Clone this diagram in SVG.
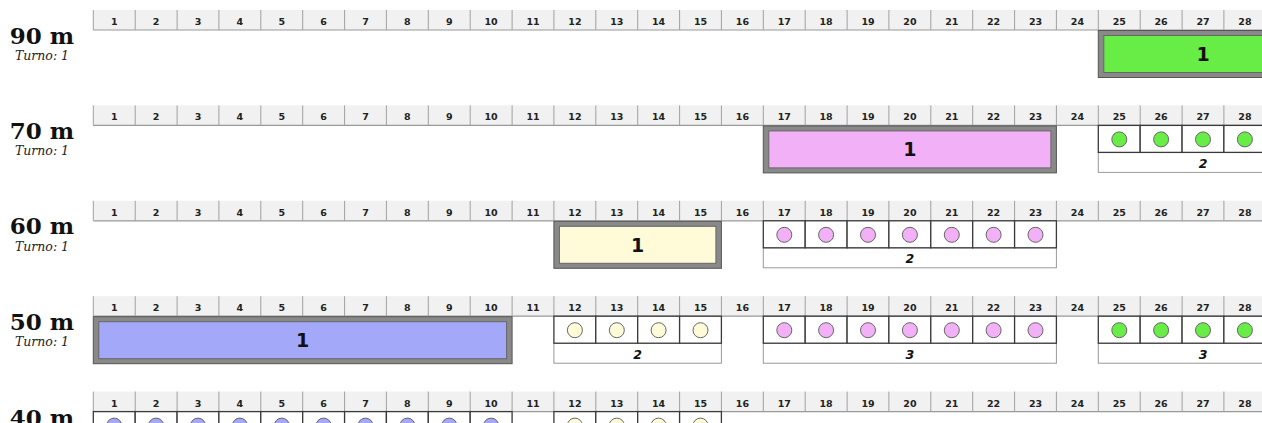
<svg xmlns="http://www.w3.org/2000/svg" xmlns:xlink="http://www.w3.org/1999/xlink" width="1262" height="423" viewBox="0 0 1262 423">
<style>
.lbl{font-family:"DejaVu Serif",serif;font-weight:bold;font-size:23px;fill:#111;text-anchor:middle}
.turno{font-family:"DejaVu Serif",serif;font-style:italic;font-size:12.5px;fill:#222;text-anchor:middle}
.rn{font-family:"DejaVu Sans",sans-serif;font-weight:bold;font-size:9.5px;fill:#222;text-anchor:middle}
.bo{fill:#898989;stroke:#555;stroke-width:1}
.bi{stroke:#666;stroke-width:1}
.bt{font-family:"DejaVu Sans",sans-serif;font-weight:bold;font-size:19px;fill:#111;text-anchor:middle}
.cell{fill:#fff;stroke:#3a3a3a;stroke-width:1.3}
.lb{fill:#fff;stroke:#999;stroke-width:1}
.lt{font-family:"DejaVu Sans",sans-serif;font-weight:bold;font-style:italic;font-size:12.5px;fill:#111;text-anchor:middle}
.c{stroke:#666;stroke-width:1}
.green{fill:#68ec46}.pink{fill:#f2b1f6}.yellow{fill:#fffbd8}.blue{fill:#a3a9f8}
.sep{stroke:#a0a0a0;stroke-width:1}
</style>
<defs>
<g id="ruler">
<rect x="93.3" y="0" width="1170" height="20" fill="#f1f1f1"/>
<line x1="93.3" y1="20" x2="1262" y2="20" stroke="#999" stroke-width="1.2"/>
<g class="sep">
<line x1="93.3" y1="0" x2="93.3" y2="20"/><line x1="135.2" y1="0" x2="135.2" y2="20"/><line x1="177.1" y1="0" x2="177.1" y2="20"/><line x1="218.9" y1="0" x2="218.9" y2="20"/><line x1="260.8" y1="0" x2="260.8" y2="20"/><line x1="302.7" y1="0" x2="302.7" y2="20"/><line x1="344.6" y1="0" x2="344.6" y2="20"/><line x1="386.4" y1="0" x2="386.4" y2="20"/><line x1="428.3" y1="0" x2="428.3" y2="20"/><line x1="470.2" y1="0" x2="470.2" y2="20"/><line x1="512.1" y1="0" x2="512.1" y2="20"/><line x1="553.9" y1="0" x2="553.9" y2="20"/><line x1="595.8" y1="0" x2="595.8" y2="20"/><line x1="637.7" y1="0" x2="637.7" y2="20"/><line x1="679.6" y1="0" x2="679.6" y2="20"/><line x1="721.4" y1="0" x2="721.4" y2="20"/><line x1="763.3" y1="0" x2="763.3" y2="20"/><line x1="805.2" y1="0" x2="805.2" y2="20"/><line x1="847.1" y1="0" x2="847.1" y2="20"/><line x1="888.9" y1="0" x2="888.9" y2="20"/><line x1="930.8" y1="0" x2="930.8" y2="20"/><line x1="972.7" y1="0" x2="972.7" y2="20"/><line x1="1014.6" y1="0" x2="1014.6" y2="20"/><line x1="1056.4" y1="0" x2="1056.4" y2="20"/><line x1="1098.3" y1="0" x2="1098.3" y2="20"/><line x1="1140.2" y1="0" x2="1140.2" y2="20"/><line x1="1182.1" y1="0" x2="1182.1" y2="20"/><line x1="1223.9" y1="0" x2="1223.9" y2="20"/>
</g>
<g class="rn">
<text x="114.2" y="15">1</text><text x="156.1" y="15">2</text><text x="198" y="15">3</text><text x="239.9" y="15">4</text><text x="281.8" y="15">5</text><text x="323.6" y="15">6</text><text x="365.5" y="15">7</text><text x="407.4" y="15">8</text><text x="449.3" y="15">9</text><text x="491.1" y="15">10</text><text x="533" y="15">11</text><text x="574.9" y="15">12</text><text x="616.8" y="15">13</text><text x="658.6" y="15">14</text><text x="700.5" y="15">15</text><text x="742.4" y="15">16</text><text x="784.3" y="15">17</text><text x="826.1" y="15">18</text><text x="868" y="15">19</text><text x="909.9" y="15">20</text><text x="951.8" y="15">21</text><text x="993.6" y="15">22</text><text x="1035.5" y="15">23</text><text x="1077.4" y="15">24</text><text x="1119.3" y="15">25</text><text x="1161.1" y="15">26</text><text x="1203" y="15">27</text><text x="1244.9" y="15">28</text>
</g>
</g>
</defs>

<!-- Row 90 m -->
<g id="row-90" transform="translate(0,10)">
<use xlink:href="#ruler" href="#ruler"/>
<g id="label-90"><text class="lbl" x="42" y="33.5">90 m</text><text class="turno" x="42" y="50">Turno: 1</text></g>
<g id="r90-seg1">
<rect class="bo" x="1098.3" y="20.5" width="209.4" height="47"/>
<rect class="bi green" x="1103.8" y="25.5" width="198.4" height="37"/>
<text class="bt" x="1203" y="51">1</text>
</g>
</g>

<!-- Row 70 m -->
<g id="row-70" transform="translate(0,105.4)">
<use xlink:href="#ruler" href="#ruler"/>
<g id="label-70"><text class="lbl" x="42" y="33.5">70 m</text><text class="turno" x="42" y="50">Turno: 1</text></g>
<g id="r70-seg1">
<rect class="bo" x="763.3" y="20.5" width="293.1" height="47"/>
<rect class="bi pink" x="768.8" y="25.5" width="282.1" height="37"/>
<text class="bt" x="909.9" y="51">1</text>
</g>
<g id="r70-seg2">
<rect class="lb" x="1098.3" y="47" width="209.4" height="20"/>
<rect class="cell" x="1098.3" y="20" width="41.9" height="27"/><rect class="cell" x="1140.2" y="20" width="41.9" height="27"/><rect class="cell" x="1182.1" y="20" width="41.8" height="27"/><rect class="cell" x="1223.9" y="20" width="41.9" height="27"/>
<circle class="c green" cx="1119.3" cy="34" r="7.5"/><circle class="c green" cx="1161.1" cy="34" r="7.5"/><circle class="c green" cx="1203" cy="34" r="7.5"/><circle class="c green" cx="1244.9" cy="34" r="7.5"/>
<text class="lt" x="1203" y="62.5">2</text>
</g>
</g>

<!-- Row 60 m -->
<g id="row-60" transform="translate(0,200.8)">
<use xlink:href="#ruler" href="#ruler"/>
<g id="label-60"><text class="lbl" x="42" y="33.5">60 m</text><text class="turno" x="42" y="50">Turno: 1</text></g>
<g id="r60-seg1">
<rect class="bo" x="553.9" y="20.5" width="167.5" height="47"/>
<rect class="bi yellow" x="559.4" y="25.5" width="156.5" height="37"/>
<text class="bt" x="637.7" y="51">1</text>
</g>
<g id="r60-seg2">
<rect class="lb" x="763.3" y="47" width="293.1" height="20"/>
<rect class="cell" x="763.3" y="20" width="41.9" height="27"/><rect class="cell" x="805.2" y="20" width="41.9" height="27"/><rect class="cell" x="847.1" y="20" width="41.8" height="27"/><rect class="cell" x="888.9" y="20" width="41.9" height="27"/><rect class="cell" x="930.8" y="20" width="41.9" height="27"/><rect class="cell" x="972.7" y="20" width="41.9" height="27"/><rect class="cell" x="1014.6" y="20" width="41.8" height="27"/>
<circle class="c pink" cx="784.3" cy="34" r="7.5"/><circle class="c pink" cx="826.1" cy="34" r="7.5"/><circle class="c pink" cx="868" cy="34" r="7.5"/><circle class="c pink" cx="909.9" cy="34" r="7.5"/><circle class="c pink" cx="951.8" cy="34" r="7.5"/><circle class="c pink" cx="993.6" cy="34" r="7.5"/><circle class="c pink" cx="1035.5" cy="34" r="7.5"/>
<text class="lt" x="909.9" y="62.5">2</text>
</g>
</g>

<!-- Row 50 m -->
<g id="row-50" transform="translate(0,296.2)">
<use xlink:href="#ruler" href="#ruler"/>
<g id="label-50"><text class="lbl" x="42" y="33.5">50 m</text><text class="turno" x="42" y="50">Turno: 1</text></g>
<g id="r50-seg1">
<rect class="bo" x="93.3" y="20.5" width="418.8" height="47"/>
<rect class="bi blue" x="98.8" y="25.5" width="407.8" height="37"/>
<text class="bt" x="302.7" y="51">1</text>
</g>
<g id="r50-seg2">
<rect class="lb" x="553.9" y="47" width="167.5" height="20"/>
<rect class="cell" x="553.9" y="20" width="41.9" height="27"/><rect class="cell" x="595.8" y="20" width="41.9" height="27"/><rect class="cell" x="637.7" y="20" width="41.9" height="27"/><rect class="cell" x="679.6" y="20" width="41.8" height="27"/>
<circle class="c yellow" cx="574.9" cy="34" r="7.5"/><circle class="c yellow" cx="616.8" cy="34" r="7.5"/><circle class="c yellow" cx="658.6" cy="34" r="7.5"/><circle class="c yellow" cx="700.5" cy="34" r="7.5"/>
<text class="lt" x="637.7" y="62.5">2</text>
</g>
<g id="r50-seg3">
<rect class="lb" x="763.3" y="47" width="293.1" height="20"/>
<rect class="cell" x="763.3" y="20" width="41.9" height="27"/><rect class="cell" x="805.2" y="20" width="41.9" height="27"/><rect class="cell" x="847.1" y="20" width="41.8" height="27"/><rect class="cell" x="888.9" y="20" width="41.9" height="27"/><rect class="cell" x="930.8" y="20" width="41.9" height="27"/><rect class="cell" x="972.7" y="20" width="41.9" height="27"/><rect class="cell" x="1014.6" y="20" width="41.8" height="27"/>
<circle class="c pink" cx="784.3" cy="34" r="7.5"/><circle class="c pink" cx="826.1" cy="34" r="7.5"/><circle class="c pink" cx="868" cy="34" r="7.5"/><circle class="c pink" cx="909.9" cy="34" r="7.5"/><circle class="c pink" cx="951.8" cy="34" r="7.5"/><circle class="c pink" cx="993.6" cy="34" r="7.5"/><circle class="c pink" cx="1035.5" cy="34" r="7.5"/>
<text class="lt" x="909.9" y="62.5">3</text>
</g>
<g id="r50-seg4">
<rect class="lb" x="1098.3" y="47" width="209.4" height="20"/>
<rect class="cell" x="1098.3" y="20" width="41.9" height="27"/><rect class="cell" x="1140.2" y="20" width="41.9" height="27"/><rect class="cell" x="1182.1" y="20" width="41.8" height="27"/><rect class="cell" x="1223.9" y="20" width="41.9" height="27"/>
<circle class="c green" cx="1119.3" cy="34" r="7.5"/><circle class="c green" cx="1161.1" cy="34" r="7.5"/><circle class="c green" cx="1203" cy="34" r="7.5"/><circle class="c green" cx="1244.9" cy="34" r="7.5"/>
<text class="lt" x="1203" y="62.5">3</text>
</g>
</g>

<!-- Row 40 m -->
<g id="row-40" transform="translate(0,391.6)">
<use xlink:href="#ruler" href="#ruler"/>
<g id="label-40"><text class="lbl" x="42" y="34.5">40 m</text></g>
<g id="r40-seg1">
<rect class="cell" x="93.3" y="20" width="41.9" height="27"/><rect class="cell" x="135.2" y="20" width="41.9" height="27"/><rect class="cell" x="177.1" y="20" width="41.8" height="27"/><rect class="cell" x="218.9" y="20" width="41.9" height="27"/><rect class="cell" x="260.8" y="20" width="41.9" height="27"/><rect class="cell" x="302.7" y="20" width="41.9" height="27"/><rect class="cell" x="344.6" y="20" width="41.8" height="27"/><rect class="cell" x="386.4" y="20" width="41.9" height="27"/><rect class="cell" x="428.3" y="20" width="41.9" height="27"/><rect class="cell" x="470.2" y="20" width="41.9" height="27"/>
<circle class="c blue" cx="114.2" cy="34" r="7.5"/><circle class="c blue" cx="156.1" cy="34" r="7.5"/><circle class="c blue" cx="198" cy="34" r="7.5"/><circle class="c blue" cx="239.9" cy="34" r="7.5"/><circle class="c blue" cx="281.8" cy="34" r="7.5"/><circle class="c blue" cx="323.6" cy="34" r="7.5"/><circle class="c blue" cx="365.5" cy="34" r="7.5"/><circle class="c blue" cx="407.4" cy="34" r="7.5"/><circle class="c blue" cx="449.3" cy="34" r="7.5"/><circle class="c blue" cx="491.1" cy="34" r="7.5"/>
</g>
<g id="r40-seg2">
<rect class="cell" x="553.9" y="20" width="41.9" height="27"/><rect class="cell" x="595.8" y="20" width="41.9" height="27"/><rect class="cell" x="637.7" y="20" width="41.9" height="27"/><rect class="cell" x="679.6" y="20" width="41.8" height="27"/>
<circle class="c yellow" cx="574.9" cy="34" r="7.5"/><circle class="c yellow" cx="616.8" cy="34" r="7.5"/><circle class="c yellow" cx="658.6" cy="34" r="7.5"/><circle class="c yellow" cx="700.5" cy="34" r="7.5"/>
</g>
</g>
<g id="connectors"/>
</svg>
